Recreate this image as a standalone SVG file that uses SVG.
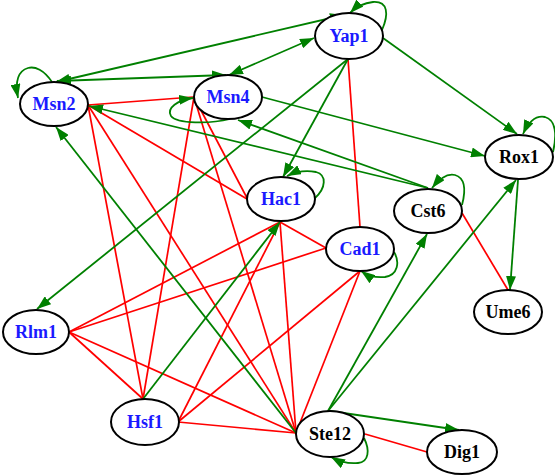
<svg xmlns="http://www.w3.org/2000/svg" width="555" height="476" viewBox="0 0 555 476">
<style>
.g{fill:none;stroke:#008000;stroke-width:1.8;marker-end:url(#ah)}
.d{marker-start:url(#ah)}
.r{fill:none;stroke:#ff0000;stroke-width:1.7}
.n ellipse{fill:#ffffff;stroke:#000000;stroke-width:2}
.n text{font-family:'Liberation Serif','Times New Roman','DejaVu Serif',serif;font-weight:700;font-size:18px;text-anchor:middle}
.b text{fill:#1a1aff}
.k text{fill:#000000}
</style>
<defs>
<marker id="ah" viewBox="0 0 14 10" refX="14" refY="5" markerWidth="14" markerHeight="10" markerUnits="userSpaceOnUse" orient="auto-start-reverse">
<path d="M0,0 L14,5 L0,10 Z" fill="#008000"/>
</marker>
</defs>
<g id="connectors">
<path class="r" d="M88,105 L193,97"/>
<path class="r" d="M88,105 L247,199"/>
<path class="r" d="M88,105 L296,433"/>
<path class="r" d="M88,105 L143,399"/>
<path class="r" d="M194,97 L143,399"/>
<path class="r" d="M194,97 L296,433"/>
<path class="r" d="M194,97 L247,198"/>
<path class="r" d="M348,59 L360,227"/>
<path class="r" d="M280,222 L326,248"/>
<path class="r" d="M280,222 L296,433"/>
<path class="r" d="M280,222 L69,332"/>
<path class="r" d="M280,222 L178,422"/>
<path class="r" d="M326,248 L69,332"/>
<path class="r" d="M360,271 L178,422"/>
<path class="r" d="M360,271 L296,433"/>
<path class="r" d="M69,332 L143,399"/>
<path class="r" d="M69,332 L296,433"/>
<path class="r" d="M178,422 L296,433"/>
<path class="r" d="M365,434 L427,452"/>
<path class="r" d="M462,213 L508,290"/>
<path class="g" d="M382,30 C389,14 388,1 373,2 C363,3 356,7 350,13"/>
<path class="g d" d="M56,82 L344,15"/>
<path class="g d" d="M229,75 L314,38"/>
<path class="g d" d="M57,81 L226,75"/>
<path class="g" d="M52,82 C44,70 35,66 28,68 C18,71 15,82 18,98"/>
<path class="g" d="M230,119 C210,124 177,124 171,116 C166,108 178,100 193,98"/>
<path class="g" d="M262,97 L485,156"/>
<path class="g" d="M383,38 L517,134"/>
<path class="g" d="M553,152 C557,135 556,120 545,117 C535,115 528,123 523,134"/>
<path class="g" d="M518,180 L510,290"/>
<path class="g" d="M462,205 C466,190 465,178 455,175 C447,173 440,178 432,188"/>
<path class="g" d="M428,188 L89,106"/>
<path class="g" d="M428,188 L238,120"/>
<path class="g" d="M348,59 L283,177"/>
<path class="g" d="M315,198 C326,188 327,175 316,172 C306,170 297,171 287,176"/>
<path class="g" d="M348,59 L37,309"/>
<path class="g" d="M143,399 L280,222"/>
<path class="g" d="M296,433 L56,127"/>
<path class="g" d="M328,411 L427,234"/>
<path class="g" d="M328,411 L516,180"/>
<path class="g" d="M330,411 L459,430"/>
<path class="g" d="M364,438 C370,450 369,462 358,463 C348,464 340,462 331,457"/>
<path class="g" d="M394,252 C400,262 398,275 385,277 C375,278 368,276 361,271"/>
</g>
<g id="Yap1" class="n b"><ellipse cx="349" cy="36" rx="34" ry="23"/><text x="349" y="42" font-family="Liberation Serif, serif" font-weight="bold">Yap1</text></g>
<g id="Msn2" class="n b"><ellipse cx="54" cy="104" rx="34" ry="22"/><text x="54" y="110" font-family="Liberation Serif, serif" font-weight="bold">Msn2</text></g>
<g id="Msn4" class="n b"><ellipse cx="228" cy="97" rx="34" ry="22"/><text x="228" y="103" font-family="Liberation Serif, serif" font-weight="bold">Msn4</text></g>
<g id="Rox1" class="n k"><ellipse cx="519" cy="157" rx="34" ry="22"/><text x="519" y="163" font-family="Liberation Serif, serif" font-weight="bold">Rox1</text></g>
<g id="Cst6" class="n k"><ellipse cx="428" cy="211" rx="34" ry="22"/><text x="428" y="217" font-family="Liberation Serif, serif" font-weight="bold">Cst6</text></g>
<g id="Hac1" class="n b"><ellipse cx="281" cy="199" rx="34" ry="22"/><text x="281" y="205" font-family="Liberation Serif, serif" font-weight="bold">Hac1</text></g>
<g id="Cad1" class="n b"><ellipse cx="360" cy="249" rx="34" ry="22"/><text x="360" y="255" font-family="Liberation Serif, serif" font-weight="bold">Cad1</text></g>
<g id="Rlm1" class="n b"><ellipse cx="36" cy="332" rx="33" ry="22"/><text x="36" y="338" font-family="Liberation Serif, serif" font-weight="bold">Rlm1</text></g>
<g id="Ume6" class="n k"><ellipse cx="508" cy="312" rx="34" ry="22"/><text x="508" y="318" font-family="Liberation Serif, serif" font-weight="bold">Ume6</text></g>
<g id="Hsf1" class="n b"><ellipse cx="145" cy="422" rx="34" ry="23"/><text x="145" y="428" font-family="Liberation Serif, serif" font-weight="bold">Hsf1</text></g>
<g id="Ste12" class="n k"><ellipse cx="330" cy="434" rx="34" ry="23"/><text x="330" y="440" font-family="Liberation Serif, serif" font-weight="bold">Ste12</text></g>
<g id="Dig1" class="n k"><ellipse cx="462" cy="452" rx="35" ry="22"/><text x="462" y="458" font-family="Liberation Serif, serif" font-weight="bold">Dig1</text></g>
</svg>
